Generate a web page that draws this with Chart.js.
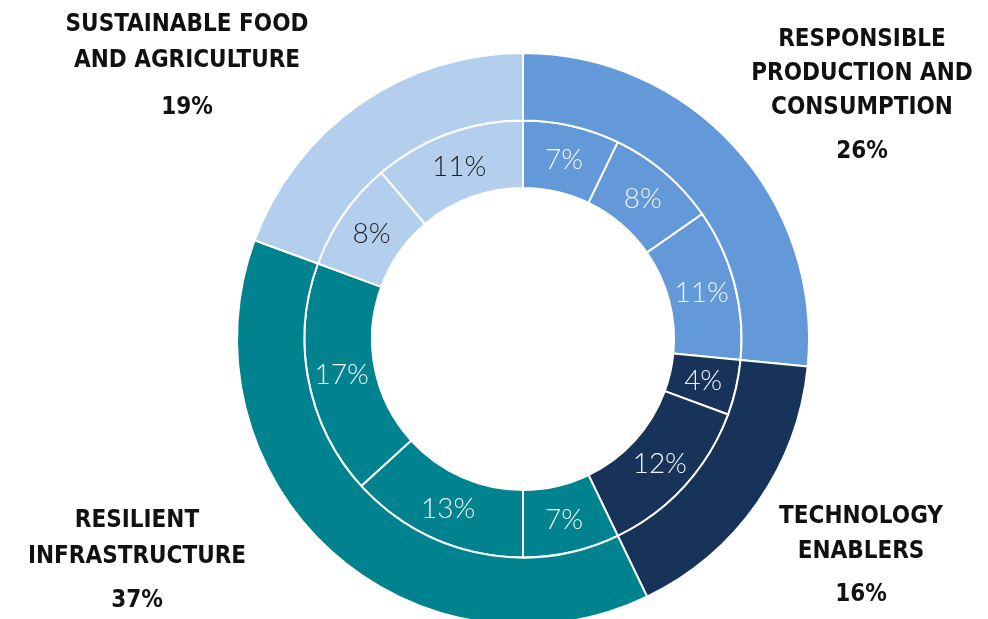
<!DOCTYPE html>
<html>
<head>
<meta charset="utf-8">
<script src="https://cdn.jsdelivr.net/npm/chart.js@4.4.1/dist/chart.umd.min.js"></script>
<style>
  html, body { margin: 0; padding: 0; background: #ffffff; overflow: hidden; width: 988px; height: 619px; }
  canvas { display: block; }
</style>
</head>
<body>
<canvas id="c" width="988" height="630"></canvas>
<script>
// ---- Data ----
const categories = [
  ["RESPONSIBLE", "PRODUCTION AND", "CONSUMPTION"],
  ["TECHNOLOGY", "ENABLERS"],
  ["RESILIENT", "INFRASTRUCTURE"],
  ["SUSTAINABLE FOOD", "AND AGRICULTURE"]
];
const outerValues = [26, 16, 37, 19];
const innerValues = [7, 8, 11, 4, 12, 7, 13, 17, 8, 11];
const innerGroup = [0, 0, 0, 1, 1, 2, 2, 2, 3, 3];

// ---- Styles ----
const groupColors = ["#6399D9", "#17335A", "#00828F", "#B4CFEE"];
const innerTextColors = ["#f2f6fb", "#f2f6fb", "#f2f6fb", "#1e1e1e"];
const labelFont = "bold 24px 'Liberation Sans Narrow', 'DejaVu Sans Condensed', 'Arial Narrow', sans-serif";
const innerFont = "300 28px Lato, 'Open Sans', sans-serif";
// outer label layout: center x, line y's, percent y
const outerLabelLayout = [
  { x: 862, ys: [40, 74, 108], py: 152 },
  { x: 861, ys: [517, 552], py: 595 },
  { x: 137, ys: [521, 557], py: 601 },
  { x: 187, ys: [25, 61], py: 108 }
];

const labelPlugin = {
  id: 'ringLabels',
  afterDatasetsDraw(chart) {
    const ctx = chart.ctx;
    ctx.save();
    ctx.textAlign = 'center';
    ctx.textBaseline = 'middle';
    // inner ring labels
    const innerMeta = chart.getDatasetMeta(1);
    ctx.font = innerFont;
    innerMeta.data.forEach((arc, i) => {
      const p = arc.tooltipPosition();
      ctx.fillStyle = innerTextColors[innerGroup[i]];
      ctx.fillText(innerValues[i] + '%', p.x, p.y + 1);
    });
    // outer labels
    ctx.font = labelFont;
    ctx.fillStyle = '#111111';
    categories.forEach((lines, i) => {
      const L = outerLabelLayout[i];
      lines.forEach((t, j) => ctx.fillText(t, L.x, L.ys[j]));
      ctx.fillText(outerValues[i] + '%', L.x, L.py);
    });
    ctx.restore();
  }
};

new Chart(document.getElementById('c'), {
  type: 'doughnut',
  data: {
    labels: categories.map(l => l.join(' ')),
    datasets: [
      {
        data: outerValues,
        backgroundColor: groupColors,
        borderColor: '#ffffff',
        borderWidth: 2,
        hoverOffset: 0,
        hoverBorderWidth: 2
      },
      {
        data: innerValues,
        backgroundColor: innerGroup.map(g => groupColors[g]),
        borderColor: '#ffffff',
        borderWidth: 2,
        hoverOffset: 0,
        hoverBorderWidth: 2
      }
    ]
  },
  options: {
    responsive: false,
    animation: false,
    radius: 286,
    cutout: 150,
    layout: { padding: { top: 54, bottom: 6, left: 200, right: 142 } },
    plugins: {
      legend: { display: false },
      tooltip: { enabled: false }
    },
    events: []
  },
  plugins: [labelPlugin]
});
</script>
</body>
</html>
